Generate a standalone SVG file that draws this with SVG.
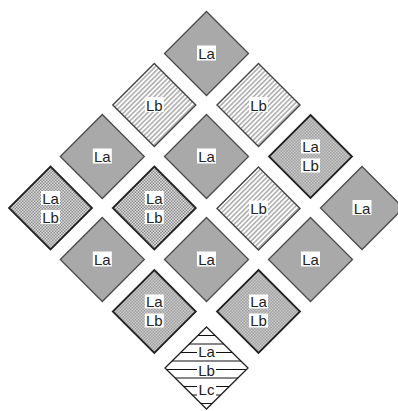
<svg xmlns="http://www.w3.org/2000/svg" width="398" height="411" viewBox="0 0 398 411">
  <defs>
    <pattern id="hatch" width="3.4" height="3.4" patternUnits="userSpaceOnUse" patternTransform="rotate(45)">
      <rect width="3.4" height="3.4" fill="#fff"/>
      <line x1="0.8" y1="0" x2="0.8" y2="3.4" stroke="#8a8a8a" stroke-width="1.1"/>
    </pattern>
    <pattern id="cross" width="3" height="3" patternUnits="userSpaceOnUse">
      <rect width="3" height="3" fill="#fff"/>
      <rect x="0" y="0" width="1.5" height="1.5" fill="#6a6a6a"/>
      <rect x="1.5" y="1.5" width="1.5" height="1.5" fill="#6a6a6a"/>
    </pattern>
    <clipPath id="clipBottom">
      <polygon points="206.5,327 248,368 206.5,409 165,368"/>
    </clipPath>
  </defs>
  <style>
    .d { stroke-linejoin: miter; }
    .gray { fill: #a9a9a9; stroke: #4a4a4a; stroke-width: 1.3; }
    .lb { fill: url(#hatch); stroke: #444; stroke-width: 1.4; }
    .cr { fill: url(#cross); stroke: #222; stroke-width: 1.8; }
    .wh { fill: #fff; stroke: #222; stroke-width: 1.3; }
    .bg { fill: #fff; }
    .t { font-family: "Liberation Sans", Arial, sans-serif; font-size: 15px; fill: #222; text-anchor: middle; }
    .hl { stroke: #111; stroke-width: 1; }
  </style>

  <g id="n1" transform="translate(206.5,53.5)">
    <polygon class="d gray" points="0,-42 42,0 0,42 -42,0"/>
    <rect class="bg" x="-9.5" y="-8" width="19" height="15"/>
    <text class="t" x="0" y="5.5">La</text>
  </g>

  <g id="n2" transform="translate(154.3,105)">
    <polygon class="d lb" points="0,-41.5 41.5,0 0,41.5 -41.5,0"/>
    <rect class="bg" x="-9.5" y="-8" width="19" height="15"/>
    <text class="t" x="0" y="5.5">Lb</text>
  </g>
  <g id="n3" transform="translate(258.5,105)">
    <polygon class="d lb" points="0,-41.5 41.5,0 0,41.5 -41.5,0"/>
    <rect class="bg" x="-9.5" y="-8" width="19" height="15"/>
    <text class="t" x="0" y="5.5">Lb</text>
  </g>

  <g id="n4" transform="translate(102.3,156.5)">
    <polygon class="d gray" points="0,-42 42,0 0,42 -42,0"/>
    <rect class="bg" x="-9.5" y="-8" width="19" height="15"/>
    <text class="t" x="0" y="5.5">La</text>
  </g>
  <g id="n5" transform="translate(206.5,156.5)">
    <polygon class="d gray" points="0,-42 42,0 0,42 -42,0"/>
    <rect class="bg" x="-9.5" y="-8" width="19" height="15"/>
    <text class="t" x="0" y="5.5">La</text>
  </g>
  <g id="n6" transform="translate(310.5,156.5)">
    <polygon class="d cr" points="0,-41.5 41.5,0 0,41.5 -41.5,0"/>
    <rect class="bg" x="-9.5" y="-17" width="19" height="14"/>
    <rect class="bg" x="-9.5" y="2" width="19" height="14"/>
    <text class="t" x="0" y="-4.5">La</text>
    <text class="t" x="0" y="14.5">Lb</text>
  </g>

  <g id="n7" transform="translate(50.5,208)">
    <polygon class="d cr" points="0,-41.5 41.5,0 0,41.5 -41.5,0"/>
    <rect class="bg" x="-9.5" y="-17" width="19" height="14"/>
    <rect class="bg" x="-9.5" y="2" width="19" height="14"/>
    <text class="t" x="0" y="-4.5">La</text>
    <text class="t" x="0" y="14.5">Lb</text>
  </g>
  <g id="n8" transform="translate(154.3,208)">
    <polygon class="d cr" points="0,-41.5 41.5,0 0,41.5 -41.5,0"/>
    <rect class="bg" x="-9.5" y="-17" width="19" height="14"/>
    <rect class="bg" x="-9.5" y="2" width="19" height="14"/>
    <text class="t" x="0" y="-4.5">La</text>
    <text class="t" x="0" y="14.5">Lb</text>
  </g>
  <g id="n9" transform="translate(258.5,208.5)">
    <polygon class="d lb" points="0,-41.5 41.5,0 0,41.5 -41.5,0"/>
    <rect class="bg" x="-9.5" y="-8" width="19" height="15"/>
    <text class="t" x="0" y="5.5">Lb</text>
  </g>
  <g id="n10" transform="translate(362,208)">
    <polygon class="d gray" points="0,-41.5 41.5,0 0,41.5 -41.5,0"/>
    <rect class="bg" x="-9.5" y="-8" width="19" height="15"/>
    <text class="t" x="0" y="5.5">La</text>
  </g>

  <g id="n11" transform="translate(102.3,259.5)">
    <polygon class="d gray" points="0,-42 42,0 0,42 -42,0"/>
    <rect class="bg" x="-9.5" y="-8" width="19" height="15"/>
    <text class="t" x="0" y="5.5">La</text>
  </g>
  <g id="n12" transform="translate(206.5,259.5)">
    <polygon class="d gray" points="0,-42 42,0 0,42 -42,0"/>
    <rect class="bg" x="-9.5" y="-8" width="19" height="15"/>
    <text class="t" x="0" y="5.5">La</text>
  </g>
  <g id="n13" transform="translate(310.5,259.5)">
    <polygon class="d gray" points="0,-42 42,0 0,42 -42,0"/>
    <rect class="bg" x="-9.5" y="-8" width="19" height="15"/>
    <text class="t" x="0" y="5.5">La</text>
  </g>

  <g id="n14" transform="translate(154.3,311.5)">
    <polygon class="d cr" points="0,-41.5 41.5,0 0,41.5 -41.5,0"/>
    <rect class="bg" x="-9.5" y="-17" width="19" height="14"/>
    <rect class="bg" x="-9.5" y="2" width="19" height="14"/>
    <text class="t" x="0" y="-4.5">La</text>
    <text class="t" x="0" y="14.5">Lb</text>
  </g>
  <g id="n15" transform="translate(258.5,311.5)">
    <polygon class="d cr" points="0,-41.5 41.5,0 0,41.5 -41.5,0"/>
    <rect class="bg" x="-9.5" y="-17" width="19" height="14"/>
    <rect class="bg" x="-9.5" y="2" width="19" height="14"/>
    <text class="t" x="0" y="-4.5">La</text>
    <text class="t" x="0" y="14.5">Lb</text>
  </g>

  <g id="n16">
    <polygon class="d wh" points="206.5,327 248,368 206.5,409 165,368"/>
    <g clip-path="url(#clipBottom)">
      <line class="hl" x1="160" y1="335.5" x2="255" y2="335.5"/>
      <line class="hl" x1="160" y1="344" x2="255" y2="344"/>
      <line class="hl" x1="160" y1="352.5" x2="255" y2="352.5"/>
      <line class="hl" x1="160" y1="361" x2="255" y2="361"/>
      <line class="hl" x1="160" y1="369.5" x2="255" y2="369.5"/>
      <line class="hl" x1="160" y1="378" x2="255" y2="378"/>
      <line class="hl" x1="160" y1="386.5" x2="255" y2="386.5"/>
      <line class="hl" x1="160" y1="395" x2="255" y2="395"/>
      <line class="hl" x1="160" y1="403.5" x2="255" y2="403.5"/>
    </g>
    <rect class="bg" x="197" y="345" width="19" height="13"/>
    <rect class="bg" x="197" y="364" width="19" height="13"/>
    <rect class="bg" x="197" y="383" width="19" height="13"/>
    <text class="t" x="206.5" y="357">La</text>
    <text class="t" x="206.5" y="375.5">Lb</text>
    <text class="t" x="206.5" y="394.5">Lc</text>
  </g>
</svg>
